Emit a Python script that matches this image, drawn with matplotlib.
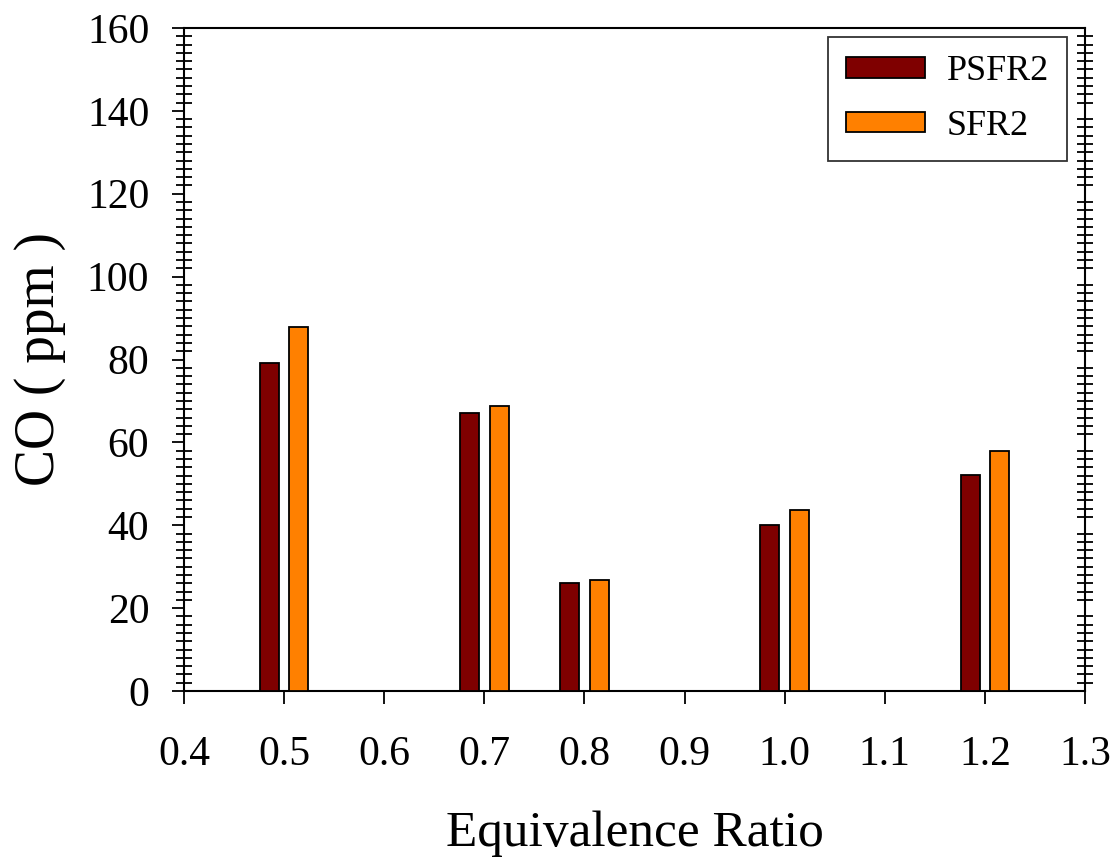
import matplotlib

matplotlib.use("Agg")
import matplotlib.pyplot as plt
import numpy as np
from matplotlib.ticker import MultipleLocator

# data
ratios = [0.5, 0.7, 0.8, 1.0, 1.2]
psfr2 = [79.2, 67.1, 26.1, 40.1, 52.1]
sfr2 = [87.8, 68.8, 26.8, 43.7, 57.9]
series_names = ["PSFR2", "SFR2"]

PSFR2_COLOR = "#7f0000"
SFR2_COLOR = "#ff8000"
BAR_W = 0.019
OFFSET = 0.0148

plt.rcParams["font.family"] = ["Liberation Serif", "DejaVu Serif"]

fig = plt.figure(figsize=(11.2, 8.65), dpi=100)
ax = fig.add_axes([184 / 1120, 1 - 691 / 865, (1085 - 184) / 1120, (691 - 28) / 865])

x = np.array(ratios)
ax.bar(x - OFFSET, psfr2, width=BAR_W, color=PSFR2_COLOR, edgecolor="black",
       linewidth=1.3, label=series_names[0], zorder=3)
ax.bar(x + OFFSET, sfr2, width=BAR_W, color=SFR2_COLOR, edgecolor="black",
       linewidth=1.3, label=series_names[1], zorder=3)

ax.set_xlim(0.4, 1.3)
ax.set_ylim(0, 160)
ax.set_xticks(np.round(np.arange(0.4, 1.31, 0.1), 1))
ax.set_xticklabels([f"{v:.1f}" for v in np.arange(0.4, 1.31, 0.1)])
ax.yaxis.set_major_locator(MultipleLocator(20))
ax.yaxis.set_minor_locator(MultipleLocator(2))

for side in ax.spines.values():
    side.set_linewidth(1.5)

ax.tick_params(axis="x", which="major", direction="out", length=9, width=1.3,
               labelsize=30, pad=23, top=False)
ax.tick_params(axis="y", which="major", direction="out", length=9, width=1.3,
               labelsize=30, pad=16, right=False)
ax.tick_params(axis="y", which="minor", direction="inout", length=12, width=1.3,
               left=True, right=True)
ax.tick_params(axis="x", which="minor", bottom=False, top=False)

ax.set_xlabel("Equivalence Ratio", fontsize=37, labelpad=26)
ax.set_ylabel("CO ( ppm )", fontsize=40, labelpad=15)

# legend box placed at pixel (1067, 37) in the reference
leg = ax.legend(loc="upper right", bbox_to_anchor=(1067 / 1120, 1 - 37 / 865),
                bbox_transform=fig.transFigure, fontsize=26, frameon=True,
                fancybox=False, edgecolor="black", handlelength=2.2,
                handleheight=0.5, handletextpad=0.6, borderpad=0.5,
                labelspacing=0.6, borderaxespad=0)
leg.get_frame().set_linewidth(1.3)

fig.savefig("out.png", dpi=100, facecolor="white")
